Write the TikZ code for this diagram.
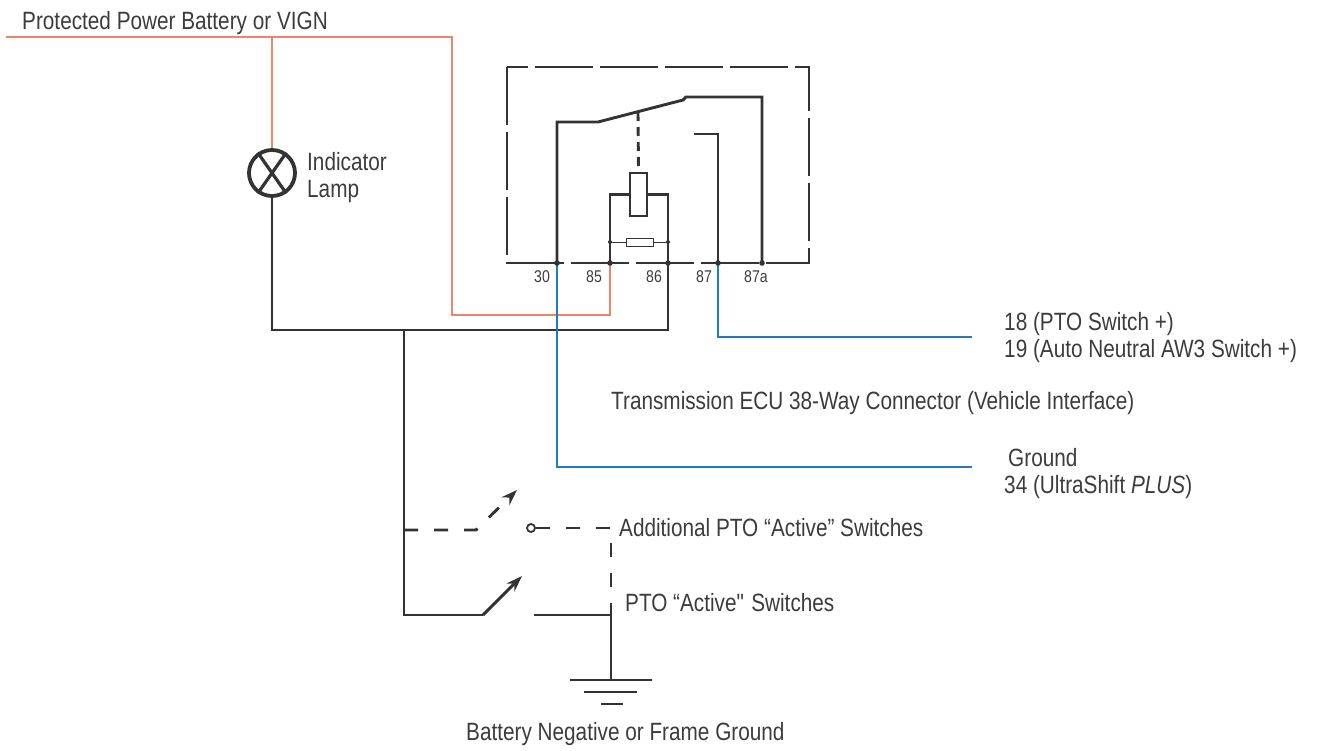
\documentclass[tikz,border=0pt]{standalone}
\usepackage{fontspec}
\setmainfont{Liberation Sans}[FakeStretch=0.83]
\usetikzlibrary{arrows.meta,positioning}
\definecolor{wiregrey}{RGB}{51,51,51}
\definecolor{pwrorange}{RGB}{234,135,106}
\definecolor{sigblue}{RGB}{36,122,190}
\definecolor{txtgrey}{RGB}{60,60,60}

\begin{document}
\begin{tikzpicture}[x=1pt, y=-1pt,
  wire/.style={draw=wiregrey, line width=2.9pt},
  pwr/.style={draw=pwrorange, line width=2.3pt},
  sig/.style={draw=sigblue, line width=2.5pt},
  thin/.style={draw=wiregrey, line width=1pt},
  housing/.style={draw=wiregrey, line width=2.9pt, dash pattern=on 58pt off 7pt},
  optwire/.style={wire, dash pattern=on 14pt off 16pt},
  lbl/.style={inner sep=0pt, anchor=base west, text=txtgrey, font=\fontsize{25}{27}\selectfont, align=left},
  pinlbl/.style={inner sep=0pt, anchor=base, text=txtgrey, font=\fontsize{17}{20}\selectfont},
  lamp/.style={circle, draw=wiregrey, line width=3.8pt, minimum size=46pt, inner sep=0pt},
  sw/.style={wire, -{Stealth[length=16pt, width=11pt]}}]

\useasboundingbox (0,0) rectangle (1319,750);

% supply and indicator lamp
\coordinate (feed) at (6,37);
\coordinate (feedend) at (452,37);
\coordinate (lamptap) at (272,37);
\node[lamp] (lamp) at (272,173) {};
\draw[wire, line width=3.2pt] (lamp.125) -- (lamp.-55) (lamp.55) -- (lamp.-125);
\node[lbl] (lamplbl) at (307,197) {Indicator\\Lamp};
\node[lbl] (supplylbl) at (22,29) {Protected Power Battery or VIGN};

% relay pins
\coordinate (p30) at (557,263);
\coordinate (p85) at (610,263);
\coordinate (p86) at (668,263);
\coordinate (p87) at (718,263);
\coordinate (p87a) at (762,263);

% relay
\draw[housing] (507,67) rectangle (809,263);
\coordinate (arm1) at (598,122);
\coordinate (arm2) at (683,100);
\coordinate (arm3) at (686,97);
\coordinate (nocontact) at (694,134);
\coordinate (lever) at (638,112);
\draw[wire] (p30) |- (arm1) -- (arm2) -- (arm3) -| (p87a);
\draw[wire] (p87) |- (nocontact);
\node[draw=wiregrey, line width=2.9pt, minimum width=17pt, minimum height=43pt, inner sep=0pt] (coil) at (638.5,194.5) {};
\draw[wire, dash pattern=on 9pt off 6pt] (lever) -- (coil.north);
\draw[wire] (coil.west) -| (p85);
\draw[wire] (coil.east) -| (p86);
\coordinate (r85) at (610,242);
\coordinate (r86) at (668,242);
\node[thin, draw, minimum width=27pt, minimum height=8pt, inner sep=0pt] (res) at (639.5,242) {};
\draw[thin] (r85) -- (res) -- (r86);
\fill[wiregrey] (r85) circle (2pt) (r86) circle (2pt);

\node[pinlbl] (l30) at (542,282) {30};
\node[pinlbl] (l85) at (594,282) {85};
\node[pinlbl] (l86) at (654,282) {86};
\node[pinlbl] (l87) at (704,282) {87};
\node[pinlbl] (l87a) at (756,282) {87a};

% wiring
\coordinate (pwrturn) at (452,315);
\draw[pwr] (feed) -- (feedend) -- (pwrturn) -| (p85);
\draw[pwr] (lamptap) -- (lamp.north);
\coordinate (rail) at (272,330);
\draw[wire] (lamp.south) -- (rail) -| (p86);

\coordinate (ecusw) at (972,337);
\coordinate (ecugnd) at (972,467);
\draw[sig] (p87) |- (ecusw);
\draw[sig] (p30) |- (ecugnd);
\node[lbl] (swlbl) at (1004,357) {18 (PTO Switch +)\\19 (Auto Neutral AW3 Switch +)};
\node[lbl] (ecullbl) at (611,409) {Transmission ECU 38-Way Connector (Vehicle Interface)};
\node[lbl] (gndlbl) at (1004,493) {\hspace*{4pt}Ground\\34 (UltraShift \textit{PLUS})};

% pto switches
\coordinate (swtap) at (404,330);
\coordinate (opttap) at (404,530);
\coordinate (swlow) at (404,615);
\coordinate (swpivot) at (483,615);
\coordinate (swtip) at (522,576);
\coordinate (contact) at (534,615);
\coordinate (gndnode) at (611,615);
\coordinate (gnd) at (611,680);
\draw[wire] (swtap) -- (swlow) -- (swpivot);
\draw[sw] (swpivot) -- (swtip);
\draw[wire] (contact) -- (gndnode) -- (gnd);

\coordinate (optpivot) at (476,530);
\coordinate (opttip) at (517,490);
\coordinate (optjoin) at (611,528);
\draw[optwire, -{Stealth[length=16pt, width=11pt]}] (opttap) -- (optpivot) -- (opttip);
\node[circle, draw=wiregrey, line width=1.8pt, minimum size=8pt, inner sep=0pt] (optcontact) at (531,528) {};
\draw[optwire] (optcontact) -- (optjoin) -- (gndnode);

\node[lbl] (optlbl) at (619,536) {Additional PTO “Active” Switches};
\node[lbl] (ptolbl) at (625,611) {PTO “Active\textquotedbl{} Switches};

% ground
\draw[wire] ([xshift=-41pt]gnd) -- ([xshift=41pt]gnd);
\draw[wire] ([xshift=-27pt, yshift=-12pt]gnd) -- ([xshift=26pt, yshift=-12pt]gnd);
\draw[wire] ([xshift=-10pt, yshift=-24pt]gnd) -- ([xshift=12pt, yshift=-24pt]gnd);
\node[lbl] (gndname) at (466,740) {Battery Negative or Frame Ground};

% pin dots
\foreach \p in {p30,p85,p86,p87,p87a}
  \fill[wiregrey] (\p) circle (2.8pt);

\end{tikzpicture}
\end{document}
